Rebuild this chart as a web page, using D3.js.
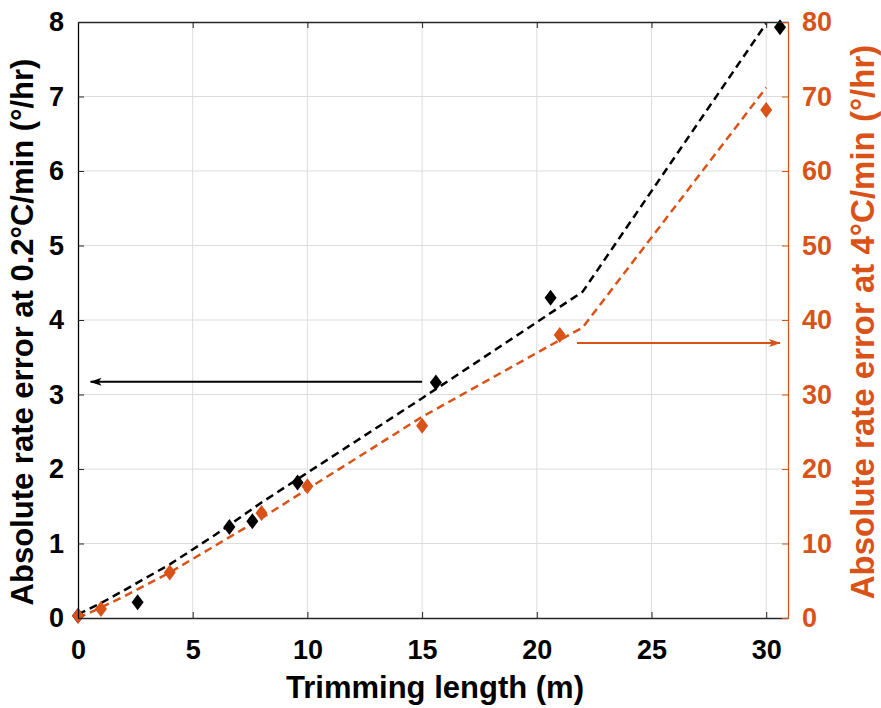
<!DOCTYPE html>
<meta charset="utf-8">
<style>
  body { margin: 0; background: #fff; }
  svg text { font-family: "Liberation Sans", Arial, sans-serif; font-weight: bold; }
  .grid line { stroke: #dcdcdc; stroke-width: 1; }
</style>
<body>
<svg id="chart" width="881" height="708"></svg>
<script src="https://d3js.org/d3.v7.min.js"></script>
<script>
  // data
  var blackX = [0, 2.6, 6.6, 7.6, 9.57, 15.6, 20.6, 30.6];
  var blackY = [0.03, 0.21, 1.22, 1.3, 1.82, 3.16, 4.3, 7.93];
  var orangeX = [0, 1, 4, 8, 10, 15, 21, 30];
  var orangeY = [0.3, 1.2, 6.1, 14.1, 17.7, 25.8, 38.0, 68.2];
  // dashed fit lines
  var blackFitX = [0, 1, 2, 4, 6, 8, 10, 15, 20, 22, 30];
  var blackFitY = [0.05, 0.2, 0.37, 0.72, 1.12, 1.55, 1.95, 2.95, 3.97, 4.38, 7.98];
  var orangeFitX = [0, 1, 2, 4, 8, 10, 15, 21, 22, 30];
  var orangeFitY = [0, 1.4, 2.9, 6.1, 13.4, 17.3, 27.0, 37.3, 39.0, 71.2];
  var xTicks = [0, 5, 10, 15, 20, 25, 30];
  var leftTicks = [0, 1, 2, 3, 4, 5, 6, 7, 8];
  var rightTicks = [0, 10, 20, 30, 40, 50, 60, 70, 80];
  // annotation arrows [x1, x2, y]
  var blackArrow = [15.0, 0.55, 3.17];
  var orangeArrow = [21.75, 30.6, 36.9];

  var orange = '#D95319';
  var margin = {top: 22, right: 93, bottom: 90, left: 78},
      width = 881 - margin.left - margin.right,
      height = 708 - margin.top - margin.bottom;

  var svg = d3.select('#chart')
    .append('g')
      .attr('transform', 'translate(' + margin.left + ',' + margin.top + ')');

  var xScale = d3.scaleLinear().domain([0, 30.95]).range([0, width]);
  var yLeft = d3.scaleLinear().domain([0, 8]).range([height, 0]);
  var yRight = d3.scaleLinear().domain([0, 80]).range([height, 0]);

  // grid
  var grid = svg.append('g').attr('class', 'grid');
  grid.selectAll('.gx').data(xTicks.slice(1)).enter().append('line')
    .attr('x1', function(d) { return xScale(d); }).attr('x2', function(d) { return xScale(d); })
    .attr('y1', 0).attr('y2', height);
  grid.selectAll('.gy').data(leftTicks.slice(1, -1)).enter().append('line')
    .attr('y1', function(d) { return yLeft(d); }).attr('y2', function(d) { return yLeft(d); })
    .attr('x1', 0).attr('x2', width);

  // dashed fits
  var blackLine = d3.line()
    .x(function(d, i) { return xScale(blackFitX[i]); })
    .y(function(d) { return yLeft(d); });
  var orangeLine = d3.line()
    .x(function(d, i) { return xScale(orangeFitX[i]); })
    .y(function(d) { return yRight(d); });

  svg.append('path').datum(blackFitY)
    .attr('d', blackLine)
    .attr('fill', 'none').attr('stroke', '#000').attr('stroke-width', 2.5)
    .attr('stroke-dasharray', '8,5');
  svg.append('path').datum(orangeFitY)
    .attr('d', orangeLine)
    .attr('fill', 'none').attr('stroke', orange).attr('stroke-width', 2.5)
    .attr('stroke-dasharray', '8,5');

  // diamonds
  var diamond = 'M0,-8L6,0L0,8L-6,0Z';
  svg.selectAll('.bpt').data(blackY).enter().append('path')
    .attr('d', diamond)
    .attr('transform', function(d, i) { return 'translate(' + xScale(blackX[i]) + ',' + yLeft(d) + ')'; })
    .attr('fill', '#000');
  svg.selectAll('.opt').data(orangeY).enter().append('path')
    .attr('d', diamond)
    .attr('transform', function(d, i) { return 'translate(' + xScale(orangeX[i]) + ',' + yRight(d) + ')'; })
    .attr('fill', orange);

  // arrows
  var defs = d3.select('#chart').append('defs');
  function marker(id, color) {
    defs.append('marker').attr('id', id)
      .attr('viewBox', '0 0 12 10').attr('refX', 11).attr('refY', 5)
      .attr('markerWidth', 12).attr('markerHeight', 10)
      .attr('markerUnits', 'userSpaceOnUse').attr('orient', 'auto')
      .append('path').attr('d', 'M0,1L12,5L0,9L3,5Z').attr('fill', color);
  }
  marker('headBlack', '#000');
  marker('headOrange', orange);
  svg.append('line')
    .attr('x1', xScale(blackArrow[0])).attr('x2', xScale(blackArrow[1]))
    .attr('y1', yLeft(blackArrow[2])).attr('y2', yLeft(blackArrow[2]))
    .attr('stroke', '#000').attr('stroke-width', 2)
    .attr('marker-end', 'url(#headBlack)');
  svg.append('line')
    .attr('x1', xScale(orangeArrow[0])).attr('x2', xScale(orangeArrow[1]))
    .attr('y1', yRight(orangeArrow[2])).attr('y2', yRight(orangeArrow[2]))
    .attr('stroke', orange).attr('stroke-width', 2)
    .attr('marker-end', 'url(#headOrange)');

  // axes
  var xAxis = svg.append('g')
    .attr('transform', 'translate(0,' + height + ')')
    .call(d3.axisBottom(xScale).tickValues(xTicks).tickSizeInner(-6).tickSizeOuter(0).tickPadding(22));
  var xTop = svg.append('g')
    .call(d3.axisTop(xScale).tickValues(xTicks).tickSizeInner(-6).tickSizeOuter(0).tickFormat(''));
  var yAxisL = svg.append('g')
    .call(d3.axisLeft(yLeft).tickValues(leftTicks).tickSizeInner(-6).tickSizeOuter(0).tickPadding(14));
  var yAxisR = svg.append('g')
    .attr('transform', 'translate(' + width + ',0)')
    .call(d3.axisRight(yRight).tickValues(rightTicks).tickSizeInner(-6).tickSizeOuter(0).tickPadding(14));

  [xAxis, xTop].forEach(function(a) {
    a.select('.domain').attr('stroke', '#262626').attr('stroke-width', 1.3);
    a.selectAll('.tick line').attr('stroke', '#262626');
  });
  xAxis.selectAll('text').attr('fill', '#000').style('font-size', '27px');
  yAxisL.select('.domain').attr('stroke', '#000').attr('stroke-width', 1.3);
  yAxisL.selectAll('.tick line').attr('stroke', '#262626');
  yAxisL.selectAll('text').attr('fill', '#000').style('font-size', '27px');
  yAxisR.select('.domain').attr('stroke', orange).attr('stroke-width', 1.3);
  yAxisR.selectAll('.tick line').attr('stroke', orange);
  yAxisR.selectAll('text').attr('fill', orange).style('font-size', '27px');

  // axis titles
  svg.append('text')
    .attr('x', width / 2 + 2).attr('y', height + 80)
    .attr('text-anchor', 'middle').style('font-size', '31px')
    .text('Trimming length (m)');
  svg.append('text')
    .attr('transform', 'translate(' + (-45) + ',' + (height / 2 + 12) + ') rotate(-90)')
    .attr('text-anchor', 'middle').style('font-size', '31px')
    .text('Absolute rate error at 0.2\u00b0C/min (\u00b0/hr)');
  svg.append('text')
    .attr('transform', 'translate(' + (width + 86) + ',' + (height / 2 + 2) + ') rotate(-90)')
    .attr('text-anchor', 'middle').style('font-size', '33px')
    .attr('fill', orange)
    .text('Absolute rate error at 4\u00b0C/min (\u00b0/hr)');
</script>
</body>
